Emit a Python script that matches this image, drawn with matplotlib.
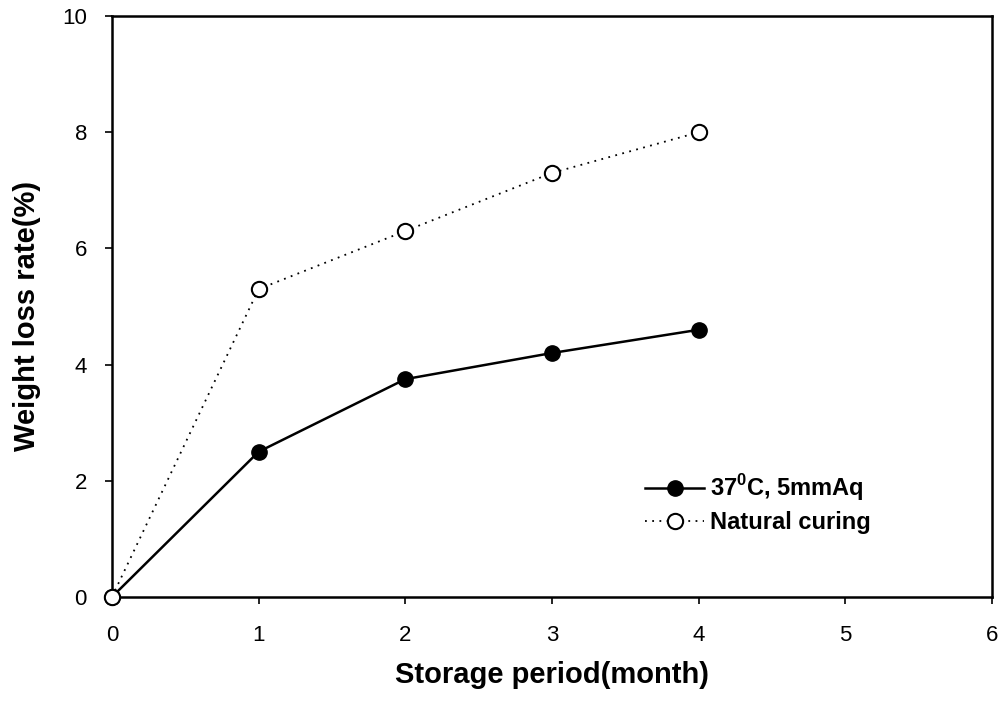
import matplotlib
matplotlib.use("Agg")
import matplotlib.pyplot as plt

months = [0, 1, 2, 3, 4]
heated = [0, 2.5, 3.75, 4.2, 4.6]
natural = [0, 5.3, 6.3, 7.3, 8.0]
xticks = [0, 1, 2, 3, 4, 5, 6]
yticks = [0, 2, 4, 6, 8, 10]

plt.rcParams['font.family'] = ['Liberation Sans', 'DejaVu Sans']
plt.rcParams['mathtext.fontset'] = 'custom'
plt.rcParams['mathtext.rm'] = 'Liberation Sans:bold'
plt.rcParams['mathtext.bf'] = 'Liberation Sans:bold'

fig = plt.figure(figsize=(10.05, 7.01), dpi=100)
ax = fig.add_axes([0.1114, 0.1484, 0.8756, 0.8286])

ax.plot(months, heated, linestyle='-', color='black', lw=1.8,
        marker='o', markersize=11, markerfacecolor='black', markeredgecolor='black',
        label='37$^{\\mathrm{0}}$C, 5mmAq', zorder=3)
ax.plot(months, natural, linestyle=(0, (1, 3)), color='black', lw=1.3,
        marker='o', markersize=11, markerfacecolor='white', markeredgecolor='black',
        markeredgewidth=1.5, label='Natural curing', zorder=4)

ax.set_xlim(0, 6)
ax.set_ylim(0, 10)
ax.set_xticks(xticks)
ax.set_yticks(yticks)
ax.tick_params(axis='x', direction='out', length=5, width=1.2, labelsize=16, pad=15)
ax.tick_params(axis='y', direction='out', length=5, width=1.2, labelsize=16, pad=13)
for s in ax.spines.values():
    s.set_linewidth(1.8)

ax.set_xlabel('Storage period(month)', fontsize=21, fontweight='bold', labelpad=11)
ax.set_ylabel('Weight loss rate(%)', fontsize=21, fontweight='bold')
ax.yaxis.set_label_coords(-0.0807, 0.4845)

ax.legend(loc='upper left', bbox_to_anchor=(0.582, 0.251),
          frameon=False, handlelength=2.5, labelspacing=0.32, handletextpad=0.25,
          prop={'weight': 'bold', 'size': 17})

for line in ax.lines:
    line.set_clip_on(False)

fig.savefig('out.png', dpi=100)
